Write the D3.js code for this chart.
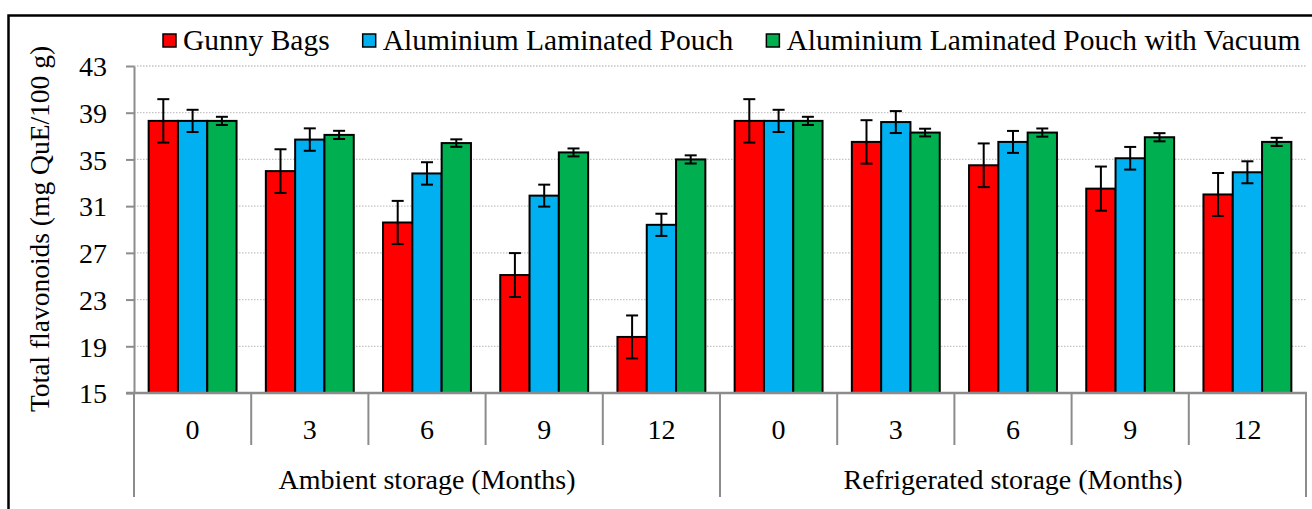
<!DOCTYPE html>
<html>
<head>
<meta charset="utf-8">
<script src="https://cdn.jsdelivr.net/npm/d3@7"></script>
<style>
  body { margin: 0; background: #fff; }
  svg { display: block; }
  .y-axis .domain { stroke: #8c8c8c; stroke-width: 2; }
  .y-axis .tick line { stroke: #8c8c8c; stroke-width: 2; }
</style>
</head>
<body>
<div class="chart-box"></div>
<script>
var series = ['Gunny Bags', 'Aluminium Laminated Pouch', 'Aluminium Laminated Pouch with Vacuum'];
var colors = ['#ff0000', '#00b0f0', '#00b050'];
var groups = ['Ambient storage (Months)', 'Refrigerated storage (Months)'];
var months = ['0', '3', '6', '9', '12'];
var yTicks = [15, 19, 23, 27, 31, 35, 39, 43];

// means, per series, ambient 0..12 then refrigerated 0..12
var gunny = [38.3, 34.0, 29.6, 25.1, 19.8, 38.3, 36.5, 34.5, 32.5, 32.0];
var alu = [38.3, 36.7, 33.8, 31.9, 29.4, 38.3, 38.2, 36.5, 35.1, 33.9];
var aluVac = [38.3, 37.1, 36.4, 35.6, 35.0, 38.3, 37.3, 37.3, 36.9, 36.5];
// error bar half-lengths
var gunnyErr = [1.86, 1.87, 1.85, 1.88, 1.84, 1.86, 1.86, 1.87, 1.89, 1.84];
var aluErr = [0.95, 0.96, 0.96, 0.94, 0.95, 0.95, 0.94, 0.94, 0.97, 0.94];
var aluVacErr = [0.35, 0.35, 0.32, 0.34, 0.35, 0.35, 0.33, 0.35, 0.35, 0.35];

var values = [gunny, alu, aluVac];
var errs = [gunnyErr, aluErr, aluVacErr];

var FONT = '"Liberation Serif", "Times New Roman", serif';
var width = 1312, height = 509;
var plot = {left: 134, right: 1306, top: 66, bottom: 393};

var svg = d3.select('.chart-box').append('svg')
    .attr('width', width)
    .attr('height', height)
    .attr('font-family', FONT);

// outer frame (right and bottom run off the picture)
svg.append('rect')
    .attr('x', 8.5).attr('y', 15.5)
    .attr('width', 1340).attr('height', 600)
    .attr('fill', 'none').attr('stroke', '#000').attr('stroke-width', 2.5);

var cats = d3.range(groups.length * months.length);

var x0 = d3.scaleBand()
    .domain(cats)
    .range([plot.left, plot.right]);

var x1 = d3.scaleBand()
    .domain(d3.range(series.length))
    .range([0, x0.bandwidth()])
    .paddingOuter(0.5);

var y = d3.scaleLinear()
    .domain([15, 43])
    .range([plot.bottom, plot.top]);

// dotted gridlines
svg.append('g').selectAll('line')
  .data(yTicks.slice(1))
  .enter().append('line')
    .attr('x1', plot.left).attr('x2', plot.right)
    .attr('y1', function(d) { return y(d); })
    .attr('y2', function(d) { return y(d); })
    .attr('stroke', '#c4c4c4')
    .attr('stroke-width', 1.3)
    .attr('stroke-dasharray', '1.5,1.5');

var yAxis = svg.append('g')
    .attr('class', 'y-axis')
    .attr('transform', 'translate(' + plot.left + ',0)')
    .call(d3.axisLeft(y).tickValues(yTicks).tickSize(8).tickSizeOuter(0).tickPadding(19));
yAxis.attr('font-family', FONT).attr('font-size', 28);
yAxis.selectAll('.tick text')
    .attr('dy', '0.35em')
    .attr('fill', '#000')
    .attr('font-family', FONT);

svg.append('text')
    .attr('transform', 'translate(49,' + 229 + ') rotate(-90)')
    .attr('text-anchor', 'middle')
    .attr('font-family', FONT)
    .attr('font-size', 27.5)
    .text('Total flavonoids (mg QuE/100 g)');

// bars
var barG = svg.append('g');
series.forEach(function(s, si) {
  barG.append('g').selectAll('rect')
    .data(cats)
    .enter().append('rect')
      .attr('x', function(c) { return x0(c) + x1(si); })
      .attr('y', function(c) { return y(values[si][c]); })
      .attr('width', x1.bandwidth())
      .attr('height', function(c) { return y(15) - y(values[si][c]); })
      .attr('fill', colors[si])
      .attr('stroke', '#000')
      .attr('stroke-width', 2);
});

// error bars
var capW = 12;
series.forEach(function(s, si) {
  var eg = barG.append('g').attr('stroke', '#000').attr('stroke-width', 2);
  cats.forEach(function(c) {
    var cx = x0(c) + x1(si) + x1.bandwidth() / 2;
    var hi = y(values[si][c] + errs[si][c]);
    var lo = y(values[si][c] - errs[si][c]);
    eg.append('line').attr('x1', cx).attr('x2', cx).attr('y1', hi).attr('y2', lo);
    eg.append('line').attr('x1', cx - capW / 2).attr('x2', cx + capW / 2).attr('y1', hi).attr('y2', hi);
    eg.append('line').attr('x1', cx - capW / 2).attr('x2', cx + capW / 2).attr('y1', lo).attr('y2', lo);
  });
});

// x axis with two level labels
var axG = svg.append('g').attr('stroke', '#8c8c8c').attr('stroke-width', 2);
axG.append('line')
    .attr('x1', plot.left - 8).attr('x2', plot.right + 1)
    .attr('y1', plot.bottom).attr('y2', plot.bottom)
    .attr('stroke-width', 2.5);

cats.concat([cats.length]).forEach(function(c) {
  var xx = c < cats.length ? x0(c) : plot.right;
  var outer = c % months.length === 0;
  axG.append('line')
      .attr('x1', xx).attr('x2', xx)
      .attr('y1', plot.bottom).attr('y2', outer ? 497 : 445);
});

svg.append('g').selectAll('text')
  .data(cats)
  .enter().append('text')
    .attr('x', function(c) { return x0(c) + x0.bandwidth() / 2; })
    .attr('y', 439)
    .attr('text-anchor', 'middle')
    .attr('font-family', FONT)
    .attr('font-size', 28)
    .text(function(c) { return months[c % months.length]; });

svg.append('g').selectAll('text')
  .data(groups)
  .enter().append('text')
    .attr('x', function(g, i) {
      return (x0(i * months.length) + x0((i + 1) * months.length - 1) + x0.bandwidth()) / 2;
    })
    .attr('y', 489)
    .attr('text-anchor', 'middle')
    .attr('font-family', FONT)
    .attr('font-size', 28)
    .text(function(g) { return g; });

// legend
var legend = svg.append('g');
var lx = 163;
series.forEach(function(s, si) {
  legend.append('rect')
      .attr('x', lx).attr('y', 34)
      .attr('width', 13).attr('height', 13)
      .attr('fill', colors[si])
      .attr('stroke', '#000').attr('stroke-width', 1.5);
  var t = legend.append('text')
      .attr('x', lx + 20).attr('y', 50)
      .attr('font-family', FONT)
      .attr('font-size', 29.5)
      .text(s);
  lx += 20 + t.node().getComputedTextLength() + 33;
});
</script>
</body>
</html>
